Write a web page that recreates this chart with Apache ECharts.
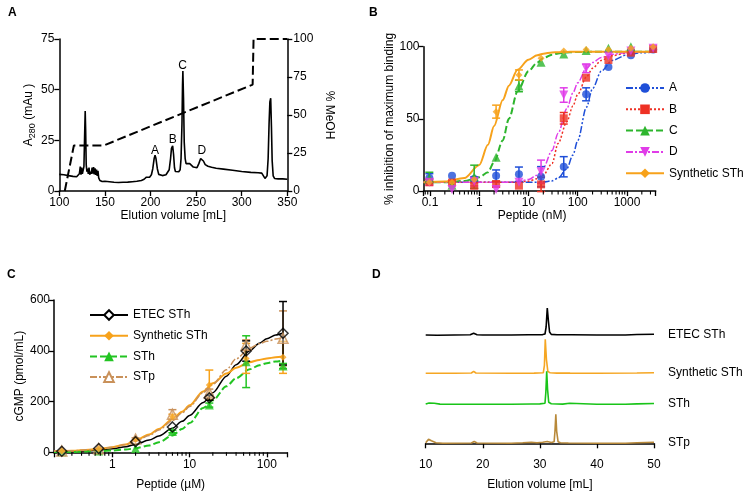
<!DOCTYPE html>
<html><head><meta charset="utf-8">
<script src="https://cdn.jsdelivr.net/npm/echarts@6/dist/echarts.min.js"></script>
<style>html,body{margin:0;padding:0;background:#fff}#c{width:750px;height:496px}</style>
</head><body><div id="c"></div>
<script>
// ---------- Panel A: chromatogram ----------
const A_volume = [100,105,110,115,119,121,122,123,123.8,124.5,125.3,126,127,127.8,128.4,128.9,129.5,130.3,131,131.8,132.6,133.4,134,135,136,136.8,137.6,138.4,139.2,140,140.8,141.6,142.4,143.2,144.5,147,150,155,160,165,170,175,180,185,190,193,195.5,196.5,197.5,199,201,202.5,204,205,206,207.5,209,211,213,215,217,219,220.5,222,223,224.3,225.3,226.3,227.3,229,231,232.5,233.5,234.5,235.1,235.5,236.2,237,238,239,241,243,245,247,249,251,253,255,256.3,258,260,263,267,272,280,290,300,310,318,322,324,325.5,326.6,327.8,329,330,330.9,331.8,332.6,333.4,334.5,336,340,345,350];
const A_absorbance = [8.2,8.0,7.6,7.2,7.0,7.2,8.5,12,8,11.5,8.5,9,12,28,39.5,30,13,9.5,11,8.5,11.5,8,9.5,8.5,11.5,8.5,11.8,8.2,11.2,8,10.5,7.5,10,6.5,5.2,4.7,4.8,4.6,4.3,4.2,4.3,4.4,4.6,4.8,5.2,5.8,6.8,7.3,6.6,6.8,8,11,16,17.6,16,11,8.2,7.5,7.6,7.8,8,8.8,10.5,16,21,22.3,18,11.5,9.6,9.2,9.5,10.5,16,33,52,59.2,46,24,16,13.5,13.2,13.5,13,11.8,11.2,11.5,13.5,16,16.6,14.8,13,12.2,11.7,11.2,10.8,10.2,9.6,9.2,9.0,8.8,8.2,6.2,5.6,7.5,16,33,44,45.8,32,15,7.5,6.2,6,6,5.8];
const A_gradVolume = [106,116,149,312,313,350];
const A_gradMeOH = [0,30,30,70,100,100];
const A_peakNames = ['A','B','C','D'];
const A_peakVolume = [205,224.3,235.3,256.3];
const A_peakLabelAbs = [19.9,25.5,62,19.7];

// ---------- Panel B: competitive binding ----------
const B_conc = [0.097,0.28,0.79,2.2,6.4,18,52,148,420,1200,3400];
const B_names = ['A','B','C','D','Synthetic STh'];
const B_val_A = [9,10.6,8.3,10.6,11.6,9.9,16.8,67,86,94,98];
const B_err_A = [3,0,1.5,4,5,7,7,4.5,0,0,0];
const B_val_B = [6,5.8,3.7,4.8,3.7,4.6,50.4,78.5,90.8,95.9,98.4];
const B_err_B = [0,0,2,2,0,5,4,0,0,0,0];
const B_val_C = [9,4,9.9,23.4,72.8,89.2,95,97.3,98.9,100,100.7];
const B_err_C = [4,0,8,0,4,0,0,0,0,0,0];
const B_val_D = [6,1,6.5,1,6,13.4,66.5,85,93.6,97,99];
const B_err_D = [2,0,3,0,0,8,5,3,0,0,0];
const B_val_S = [6,6,8,55,80.4,92,97,98,98,99,100];
const B_err_S = [0,0,0,4.5,3.5,0,0,0,0,0,0];
const B_fitX = [0.074,0.2,0.5,1,1.5,2,3,4,6,10,15,20,30,40,60,80,100,150,200,300,500,1000,2000,3800];
const B_fit_A = [6,6,6,6,6,6,6,6,6,6,6.1,6.3,7,9,15.5,25,35,58,71,83,90.5,94.3,95.8,96.3];
const B_fit_B = [6,6,6,6,6,6,6,6,6.2,6.8,8.5,11,19,33,48,59,67,79,85,90.5,93.8,95.6,96.3,96.5];
const B_fit_C = [6,6,7,9.5,13,20,35,50,69,83,89,92,94.5,95.3,96,96.2,96.3,96.5,96.5,96.5,96.5,96.5,96.5,96.5];
const B_fit_D = [6,6,6,6,6,6,6.1,6.2,6.5,8,11,16,28,40,57,68,75,85,89,92.5,94.8,96,96.4,96.5];
const B_fit_S = [6,6.5,9,18,32,45,63,73,84,91,94,95.2,96,96.2,96.4,96.5,96.5,96.5,96.5,96.5,96.5,96.5,96.5,96.5];

// ---------- Panel C: cGMP ----------
const C_conc = [0.222,0.667,2,6,18,54,162];
const C_names = ['ETEC STh','Synthetic STh ','STh','STp'];
const C_val_E = [4,15,42,100,215,399,469];
const C_err_E = [0,0,0,0,10,40,125];
const C_val_S = [5,13,50,140,265,370,374];
const C_err_S = [0,0,0,10,59,59,63];
const C_val_H = [2,5,15,82,186,357,340];
const C_err_H = [0,0,0,5,8,102,10];
const C_val_P = [5,14,52,150,234,423,449];
const C_err_P = [0,0,5,18,15,20,108];
const C_fitX = [0.176,0.3,0.5,0.7,1,1.5,2,3,4,6,8,10,15,20,30,40,60,80,100,130,162];
const C_fit_E = [2,3,6,9,14,22,31,48,64,95,122,145,196,235,300,345,400,430,447,462,470];
const C_fit_S = [4,6,10,14,20,31,47,70,92,130,160,185,240,272,310,333,355,364,370,374,377];
const C_fit_H = [1,1.5,3,4.5,7,11,16,27,40,66,92,115,175,205,260,292,327,343,351,358,362];
const C_fit_P = [4,6,10,14,20,31,44,66,88,125,155,180,235,268,325,368,410,428,437,446,452];

// ---------- Panel D: HPLC traces ----------
const D_labels = ['ETEC STh','Synthetic STh','STh','STp'];
const D_vol_E = [10,12,15,17.8,18.4,19,20,25,28,30.5,30.9,31.1,31.3,31.5,31.7,32,33,35,35.3,35.6,40,45,47,50];
const D_sig_E = [0,-0.3,0,0.2,1.8,0.3,0,0,0.2,0.4,1,8,27,14,3,0.6,0.3,0.2,1.5,0.2,0,0,0.5,0.8];
const D_vol_S = [10,15,18,18.4,18.8,25,29,30.6,30.8,30.95,31.15,31.4,31.8,33,34.8,35,35.3,40,47,50];
const D_sig_S = [0,0,0.3,2,0.3,0,0.2,0.5,8,34,14,2,0.5,0.2,0.3,1.5,0.2,0,0.3,0.6];
const D_vol_H = [10,10.6,11.5,12.5,15,20,25,28.5,30,30.9,31.05,31.2,31.35,31.55,32,34,35.2,35.5,40,45,47,50];
const D_sig_H = [0.3,1.3,1,0.2,0,0,0,0.3,0.4,1,12,33,15,2,0.5,0.2,1,0.2,0,0,0.4,0.8];
const D_vol_P = [10,10.5,11,11.8,13,18,18.5,19,25,27,28.5,29.5,30.5,31.3,32,32.5,32.65,32.8,32.95,33.2,33.6,35,40,45,47,50];
const D_sig_P = [0.5,4,2.5,0.5,0,0.3,1.8,0.3,0,0.5,1,0.6,1,1.8,0.8,1.5,12,29,12,1.5,0.5,0.3,0,0,0.6,1];

// log-axis minor tick multipliers
const minorMult = [2,3,4,5,6,7,8,9];

const FONT = '"Liberation Sans", Arial, Helvetica, sans-serif';
const zip = (xs, ys) => xs.map((x, i) => [x, ys[i]]);

function xAx(o) {
  return Object.assign({
    type: 'value', nameLocation: 'middle',
    axisLine: { show: true, lineStyle: { color: '#000', width: 1.5 } },
    axisTick: { show: true, inside: false, length: 5, lineStyle: { color: '#000', width: 1.3 } },
    axisLabel: { color: '#000', fontSize: 12, fontFamily: FONT, margin: 6, formatter: o.fmt },
    splitLine: { show: false },
    nameTextStyle: Object.assign({ color: '#000', fontSize: 12, fontFamily: FONT }, o.nts || {})
  }, o);
}
function logFmt(v) {
  const l = Math.log10(v);
  if (Math.abs(l - Math.round(l)) > 1e-6) return '';
  return v < 1 ? String(+v.toFixed(3)) : String(Math.round(v));
}
function errBars(xi, yi, xs, vals, errs, color) {
  const data = [];
  xs.forEach((x, i) => { if (errs[i] > 0) data.push([x, vals[i] - errs[i], vals[i] + errs[i]]); });
  return {
    type: 'custom', xAxisIndex: xi, yAxisIndex: yi, data, silent: true, clip: false, z: 3,
    encode: { x: 0, y: [1, 2] },
    renderItem(params, api) {
      const lo = api.coord([api.value(0), api.value(1)]);
      const hi = api.coord([api.value(0), api.value(2)]);
      const w = 4, st = { stroke: color, lineWidth: 1.5 };
      return { type: 'group', children: [
        { type: 'line', shape: { x1: lo[0], y1: lo[1], x2: hi[0], y2: hi[1] }, style: st },
        { type: 'line', shape: { x1: lo[0] - w, y1: lo[1], x2: lo[0] + w, y2: lo[1] }, style: st },
        { type: 'line', shape: { x1: hi[0] - w, y1: hi[1], x2: hi[0] + w, y2: hi[1] }, style: st }
      ]};
    }
  };
}
function minorTicks(xi, yi, lo, hi) {
  const vals = [];
  for (let e = -2; e <= 4; e++) minorMult.forEach(m => { const v = m * Math.pow(10, e); if (v > lo && v < hi) vals.push([v, 0]); });
  return {
    type: 'custom', xAxisIndex: xi, yAxisIndex: yi, data: vals, silent: true, clip: false, z: 5,
    encode: { x: 0, y: 1 },
    renderItem(params, api) {
      const p = api.coord([api.value(0), api.value(1)]);
      return { type: 'line', shape: { x1: p[0], y1: p[1], x2: p[0], y2: p[1] + 3.5 }, style: { stroke: '#000', lineWidth: 1.1 } };
    }
  };
}
function fitLine(name, xi, yi, xs, ys, color, type, width, symbol, size, extra) {
  return Object.assign({
    name, type: 'line', xAxisIndex: xi, yAxisIndex: yi, data: zip(xs, ys),
    smooth: 0.3, smoothMonotone: 'x', showSymbol: false, symbol, symbolSize: size,
    lineStyle: { color, type, width }, itemStyle: { color }, z: 2
  }, extra || {});
}
function points(name, xi, yi, xs, ys, symbol, size, itemStyle, extra) {
  return Object.assign({
    name, type: 'scatter', xAxisIndex: xi, yAxisIndex: yi, data: zip(xs, ys),
    symbol, symbolSize: size, itemStyle, z: 4
  }, extra || {});
}

const bCol = ['#1f4fd8', '#ee3124', '#2db52d', '#e03ce8', '#f7a21b'];
const bType = [[7,2,2,2,2,2], [2,2], [7,3], [7,2,2,2], 'solid'];
const bSym = ['circle', 'rect', 'triangle', 'triangle', 'diamond'];
const bSize = [8, 8, 9, 9, 7];
const bVals = [B_val_A, B_val_B, B_val_C, B_val_D, B_val_S];
const bErrs = [B_err_A, B_err_B, B_err_C, B_err_D, B_err_S];
const bFits = [B_fit_A, B_fit_B, B_fit_C, B_fit_D, B_fit_S];

const cCol = ['#000000', '#f7a21b', '#22c422', '#c9915a'];
const cType = ['solid', 'solid', [7,3], [7,2,2,2]];
const cWidth = [1.5, 2, 2, 1.5];
const cSym = ['diamond', 'diamond', 'triangle', 'triangle'];
const cSize = [10, 7, 9, 10];
const cVals = [C_val_E, C_val_S, C_val_H, C_val_P];
const cErrs = [C_err_E, C_err_S, C_err_H, C_err_P];
const cFits = [C_fit_E, C_fit_S, C_fit_H, C_fit_P];
const cItem = [
  { color: 'rgba(0,0,0,0)', borderColor: '#000', borderWidth: 1.5 },
  { color: '#f7a21b' },
  { color: '#22c422' },
  { color: 'rgba(255,255,255,0.5)', borderColor: '#c9915a', borderWidth: 1.5 }
];
const cLegendItem = [
  { color: '#fff', borderColor: '#000', borderWidth: 1.5 },
  { color: '#f7a21b' },
  { color: '#22c422' },
  { color: '#fff', borderColor: '#c9915a', borderWidth: 1.5 }
];

const dCol = ['#000000', '#f5a623', '#19c419', '#b8893a'];
const dVols = [D_vol_E, D_vol_S, D_vol_H, D_vol_P];
const dSigs = [D_sig_E, D_sig_S, D_sig_H, D_sig_P];
const dTops = [299, 337.3, 368.3, 407.3];

const series = [];
// A
series.push({
  name: 'A280', type: 'line', xAxisIndex: 0, yAxisIndex: 0, data: zip(A_volume, A_absorbance),
  symbol: 'none', lineStyle: { color: '#000', width: 1.6 }, z: 3,
  markPoint: {
    symbol: 'circle', symbolSize: 1, itemStyle: { color: 'rgba(0,0,0,0)' },
    label: { show: true, position: 'inside', formatter: p => p.name, color: '#000', fontSize: 12, fontFamily: FONT },
    data: A_peakNames.map((n, i) => ({ name: n, coord: [A_peakVolume[i], A_peakLabelAbs[i]] }))
  }
});
series.push({
  name: 'MeOH', type: 'line', xAxisIndex: 0, yAxisIndex: 1, data: zip(A_gradVolume, A_gradMeOH),
  symbol: 'none', lineStyle: { color: '#000', width: 2, type: [9, 4] }, z: 2
});
// B
B_names.forEach((n, k) => {
  series.push(fitLine(n, 1, 2, B_fitX, bFits[k], bCol[k], bType[k], k === 4 || k === 2 ? 2 : 1.5, bSym[k], bSize[k],
    k === 3 ? { symbolRotate: 180 } : {}));
  series.push(errBars(1, 2, B_conc, bVals[k], bErrs[k], bCol[k]));
  series.push(points('B pts ' + n, 1, 2, B_conc, bVals[k], bSym[k], bSize[k], { color: bCol[k] }, k === 3 ? { symbolRotate: 180 } : {}));
});
series.push(minorTicks(1, 2, 0.0738, 3830));
// C
[2, 3, 1, 0].forEach(k => {
  series.push(errBars(2, 3, C_conc, cVals[k], cErrs[k], cCol[k]));
});
[0, 1, 2, 3].forEach(k => {
  series.push(fitLine(C_names[k], 2, 3, C_fitX, cFits[k], cCol[k], cType[k], cWidth[k], cSym[k], cSize[k],
    { itemStyle: cLegendItem[k] }));
});
[2, 3, 1, 0].forEach(k => {
  series.push(points('C pts ' + k, 2, 3, C_conc, cVals[k], cSym[k], cSize[k], cItem[k]));
});
series.push(minorTicks(2, 3, 0.176, 184));
// D
D_labels.forEach((lab, k) => {
  series.push({
    name: 'trace ' + k, type: 'line', xAxisIndex: 3 + k, yAxisIndex: 4 + k, data: zip(dVols[k], dSigs[k]),
    symbol: 'none', lineStyle: { color: dCol[k], width: 1.6 },
    endLabel: { show: true, formatter: () => lab, distance: 14, color: '#000', fontSize: 12, fontFamily: FONT }
  });
});

const grids = [
  { left: 59.3, top: 39, width: 228, height: 152 },
  { left: 423.5, top: 46.7, width: 232.2, height: 144.3 },
  { left: 54, top: 300, width: 233.3, height: 152.3 }
].concat(dTops.map(t => ({ left: 425.7, top: t, width: 228.3, height: 40 })));

const xAxes = [
  xAx({ gridIndex: 0, min: 100, max: 350, interval: 50, name: 'Elution volume [mL]', nameGap: 16 }),
  xAx({ gridIndex: 1, type: 'log', logBase: 10, min: 0.0738, max: 3830, name: 'Peptide (nM)', nameGap: 15, fmt: logFmt, nts: { padding: [0, 15, 0, 0] } }),
  xAx({ gridIndex: 2, type: 'log', logBase: 10, min: 0.176, max: 184, name: 'Peptide (µM)', nameGap: 26, fmt: logFmt })
];
dTops.forEach((t, k) => {
  if (k < 3) xAxes.push({ gridIndex: 3 + k, type: 'value', min: 10, max: 50, show: false });
  else xAxes.push(xAx({ gridIndex: 3 + k, min: 10, max: 50, interval: 10, offset: 5.4, name: 'Elution volume [mL]', nameGap: 26 }));
});

function yAx(o) {
  return Object.assign({
    type: 'value', nameLocation: 'middle',
    axisLine: { show: true, lineStyle: { color: '#000', width: 1.5 } },
    axisTick: { show: true, inside: false, length: 5, lineStyle: { color: '#000', width: 1.3 } },
    axisLabel: { color: '#000', fontSize: 12, fontFamily: FONT, margin: o.lm || 5 },
    splitLine: { show: false },
    nameTextStyle: { color: '#000', fontSize: 12, fontFamily: FONT, rich: o.rich }
  }, o);
}
const yAxes = [
  yAx({ gridIndex: 0, min: 0, max: 75, interval: 25, name: '{a|A}{s|280}{a| (mAu )}', nameGap: 21,
    rich: { a: { fontSize: 12, lineHeight: 16, fontFamily: FONT, color: '#000' }, s: { fontSize: 9, lineHeight: 9, verticalAlign: 'bottom', fontFamily: FONT, color: '#000' } } }),
  yAx({ gridIndex: 0, position: 'right', min: 0, max: 100, interval: 25, name: '% MeOH', nameRotate: -90, nameGap: 36, lm: 6 }),
  yAx({ gridIndex: 1, min: 0, max: 100, interval: 50, name: '% inhibition of maximum binding', nameGap: 24, lm: 4 }),
  yAx({ gridIndex: 2, min: 0, max: 600, interval: 200, name: 'cGMP (pmol/mL)', nameGap: 24, lm: 4 })
];
dTops.forEach((t, k) => yAxes.push({ gridIndex: 3 + k, type: 'value', min: -4, max: 36, show: false }));

const panelTitle = (text, left, top) => ({ text, left, top, padding: 0, textStyle: { fontSize: 12, fontWeight: 'bold', color: '#000', fontFamily: FONT } });

const option = {
  animation: false,
  backgroundColor: '#fff',
  textStyle: { fontFamily: FONT },
  title: [panelTitle('A', 8, 7), panelTitle('B', 369, 7), panelTitle('C', 7, 269), panelTitle('D', 372, 269)],
  legend: [
    { data: B_names, orient: 'vertical', left: 620, top: 77, itemWidth: 38, itemHeight: 12, itemGap: 9.3, selectedMode: false,
      textStyle: { fontSize: 12, color: '#000', fontFamily: FONT } },
    { data: C_names, orient: 'vertical', left: 84, top: 304, itemWidth: 38, itemHeight: 12, itemGap: 8.7, selectedMode: false,
      textStyle: { fontSize: 12, color: '#000', fontFamily: FONT } }
  ],
  grid: grids,
  xAxis: xAxes,
  yAxis: yAxes,
  series
};
const chart = echarts.init(document.getElementById('c'), null, { renderer: 'canvas' });
chart.setOption(option);
</script></body></html>
